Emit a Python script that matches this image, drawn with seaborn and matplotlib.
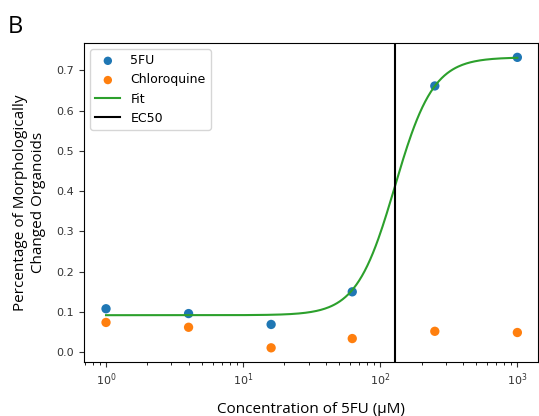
import numpy as np
import pandas as pd
import matplotlib
matplotlib.use("Agg")
import matplotlib.pyplot as plt
import seaborn as sns

# concentrations (uM) and response
conc = [1, 4, 16, 62.5, 250, 1000]
fu_resp = [0.108, 0.096, 0.069, 0.150, 0.661, 0.732]
chloro_resp = [0.074, 0.062, 0.011, 0.034, 0.052, 0.049]

# Hill fit parameters
fit_bottom = 0.092
fit_top = 0.732
ec50 = 128
hill = 3.1

x_fit = np.logspace(0, 3, 300)
y_fit = fit_bottom + (fit_top - fit_bottom) / (1 + (ec50 / x_fit) ** hill)

df = pd.DataFrame({"conc": conc, "5FU": fu_resp, "Chloroquine": chloro_resp})
fit_df = pd.DataFrame({"conc": x_fit, "resp": y_fit})

fig = plt.figure(figsize=(5.39, 4.16), dpi=100)
ax = fig.add_axes([0.156, 0.13, 0.842, 0.767])

sns.scatterplot(data=df, x="conc", y="5FU", color="#1f77b4", s=45,
                edgecolor="none", label="5FU", ax=ax)
sns.scatterplot(data=df, x="conc", y="Chloroquine", color="#ff7f0e", s=45,
                edgecolor="none", label="Chloroquine", ax=ax)
sns.lineplot(data=fit_df, x="conc", y="resp", color="#2ca02c", lw=1.5,
             label="Fit", ax=ax)
ax.axvline(ec50, color="black", lw=1.5, label="EC50")

ax.set_xscale("log")
ax.set_xlim(10 ** -0.16, 10 ** 3.15)
ax.set_ylim(-0.024, 0.768)
ax.set_yticks([0.0, 0.1, 0.2, 0.3, 0.4, 0.5, 0.6, 0.7])
ax.tick_params(labelsize=8, colors="#333333")

lab_font = dict(family="Open Sans", size=11)
ax.set_xlabel("Concentration of 5FU (\u00b5M)", fontdict=lab_font, labelpad=10)
ax.set_ylabel("Percentage of Morphologically\nChanged Organoids", fontdict=lab_font, labelpad=8)

ax.legend(loc="upper left", fontsize=9, markerscale=0.9)

fig.text(0.014, 0.921, "B", family="Open Sans", fontsize=17)

plt.savefig("out.png", dpi=100)
